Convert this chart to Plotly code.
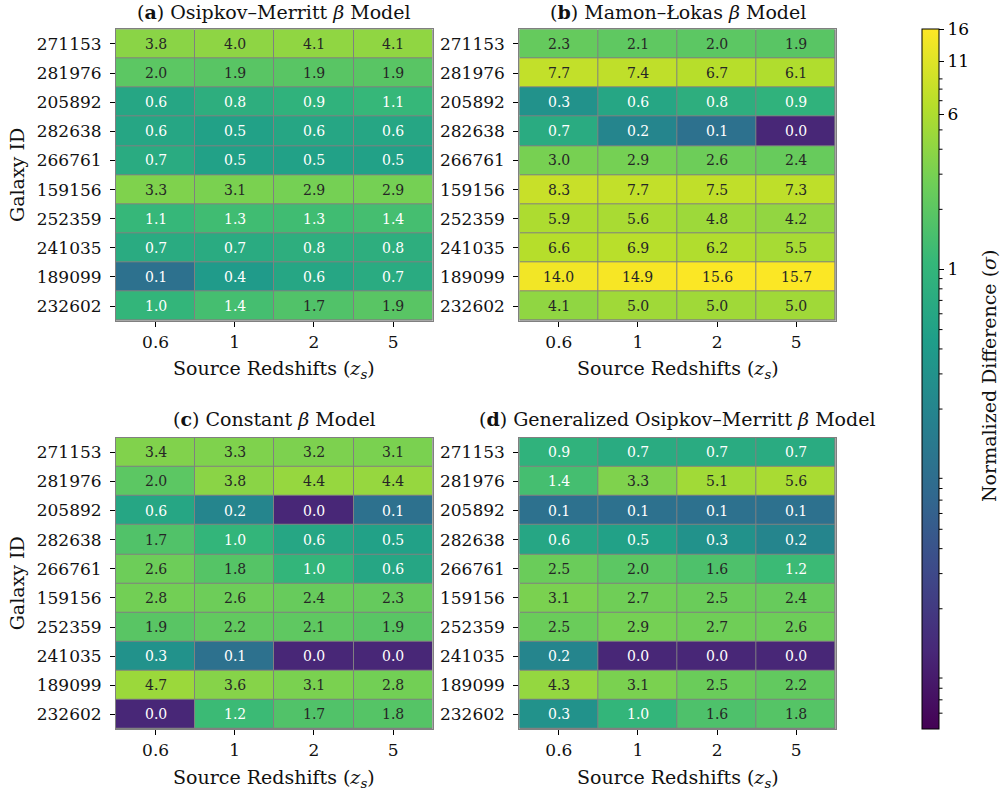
import numpy as np
import plotly.graph_objects as go

galaxies = ["271153", "281976", "205892", "282638", "266761",
            "159156", "252359", "241035", "189099", "232602"]
redshifts = ["0.6", "1", "2", "5"]

osipkov_merritt = [
    [3.8, 4.0, 4.1, 4.1],
    [2.0, 1.9, 1.9, 1.9],
    [0.6, 0.8, 0.9, 1.1],
    [0.6, 0.5, 0.6, 0.6],
    [0.7, 0.5, 0.5, 0.5],
    [3.3, 3.1, 2.9, 2.9],
    [1.1, 1.3, 1.3, 1.4],
    [0.7, 0.7, 0.8, 0.8],
    [0.1, 0.4, 0.6, 0.7],
    [1.0, 1.4, 1.7, 1.9],
]
mamon_lokas = [
    [2.3, 2.1, 2.0, 1.9],
    [7.7, 7.4, 6.7, 6.1],
    [0.3, 0.6, 0.8, 0.9],
    [0.7, 0.2, 0.1, 0.012],
    [3.0, 2.9, 2.6, 2.4],
    [8.3, 7.7, 7.5, 7.3],
    [5.9, 5.6, 4.8, 4.2],
    [6.6, 6.9, 6.2, 5.5],
    [14.0, 14.9, 15.6, 15.7],
    [4.1, 5.0, 5.0, 5.0],
]
constant_beta = [
    [3.4, 3.3, 3.2, 3.1],
    [2.0, 3.8, 4.4, 4.4],
    [0.6, 0.2, 0.012, 0.1],
    [1.7, 1.0, 0.6, 0.5],
    [2.6, 1.8, 1.0, 0.6],
    [2.8, 2.6, 2.4, 2.3],
    [1.9, 2.2, 2.1, 1.9],
    [0.3, 0.1, 0.012, 0.012],
    [4.7, 3.6, 3.1, 2.8],
    [0.012, 1.2, 1.7, 1.8],
]
generalized_om = [
    [0.9, 0.7, 0.7, 0.7],
    [1.4, 3.3, 5.1, 5.6],
    [0.1, 0.1, 0.1, 0.1],
    [0.6, 0.5, 0.3, 0.2],
    [2.5, 2.0, 1.6, 1.2],
    [3.1, 2.7, 2.5, 2.4],
    [2.5, 2.9, 2.7, 2.6],
    [0.2, 0.012, 0.012, 0.012],
    [4.3, 3.1, 2.5, 2.2],
    [0.3, 1.0, 1.6, 1.8],
]
panel_titles = [
    "(<b>a</b>) Osipkov–Merritt <i>β</i> Model",
    "(<b>b</b>) Mamon–Łokas <i>β</i> Model",
    "(<b>c</b>) Constant <i>β</i> Model",
    "(<b>d</b>) Generalized Osipkov–Merritt <i>β</i> Model",
]
cbar_ticks = [1, 6, 11, 16]
cbar_minor = [0.006, 0.007, 0.008, 0.009,
              0.02, 0.03, 0.04, 0.05, 0.06, 0.07, 0.08, 0.09,
              0.2, 0.3, 0.4, 0.5, 0.6, 0.7, 0.8, 0.9,
              2, 3, 4, 5, 7, 8, 9]
VMIN, VMAX = 0.005, 16.0

W, H = 1004, 793
FONT = "DejaVu Serif"
LABEL_SIZE = 19
TICK_SIZE = 17
CELL_SIZE = 14

def px_x(p):
    return p / W

def px_y(p):
    return 1 - p / H

# panel pixel boxes (left, right, top, bottom)
boxes = [
    (116, 432.7, 29.3, 320.7),
    (519.3, 835.7, 29.3, 320.7),
    (116, 432.7, 437.7, 729),
    (519.3, 835.7, 437.7, 729),
]
datasets = [osipkov_merritt, mamon_lokas, constant_beta, generalized_om]

fig = go.Figure()
annotations = []
zmin, zmax = np.log10(VMIN), np.log10(VMAX)
xi = list(range(len(redshifts)))
yi = list(range(len(galaxies)))

for i, (data, box) in enumerate(zip(datasets, boxes)):
    arr = np.array(data, dtype=float)
    xa = "x" if i == 0 else f"x{i+1}"
    ya = "y" if i == 0 else f"y{i+1}"
    trace = go.Heatmap(
        z=np.log10(arr).tolist(), x=xi, y=yi,
        colorscale="Viridis", zmin=zmin, zmax=zmax,
        xgap=1, ygap=1, hoverinfo="skip",
        xaxis=xa, yaxis=ya,
        showscale=(i == 0),
    )
    if i == 0:
        trace.colorbar = dict(
            x=px_x(922), xanchor="left", xpad=0,
            y=px_y(29), yanchor="top", ypad=0,
            len=700 / H, lenmode="fraction",
            thickness=17, thicknessmode="pixels",
            outlinecolor="black", outlinewidth=1,
            tickvals=list(np.log10(cbar_ticks)),
            ticktext=[str(t) for t in cbar_ticks],
            ticks="outside", ticklen=5, tickwidth=1, tickcolor="black",
            tickfont=dict(family=FONT, size=TICK_SIZE, color="black"),
        )
    fig.add_trace(trace)

    l, r, t, b = box
    axis_common = dict(
        showline=True, mirror=True, linecolor="#808080", linewidth=1,
        ticks="outside", ticklen=5, tickwidth=1.2, tickcolor="black",
        showgrid=False, zeroline=False,
        tickfont=dict(family=FONT, size=TICK_SIZE, color="#111111"),
    )
    fig.layout[("xaxis" if i == 0 else f"xaxis{i+1}")] = dict(
        domain=[px_x(l), px_x(r)], anchor=ya, range=[-0.5, len(xi) - 0.5],
        tickvals=xi, ticktext=redshifts, ticklabelstandoff=1, **axis_common,
    )
    fig.layout[("yaxis" if i == 0 else f"yaxis{i+1}")] = dict(
        domain=[px_y(b), px_y(t)], anchor=xa, range=[len(yi) - 0.5, -0.5],
        tickvals=yi, ticktext=galaxies, ticklabelstandoff=5, **axis_common,
    )

    # cell labels
    for gi in yi:
        for ri in xi:
            v = arr[gi, ri]
            annotations.append(dict(
                x=ri, y=gi, xref=xa, yref=ya, text=f"{v:.1f}",
                showarrow=False,
                font=dict(family=FONT, size=CELL_SIZE,
                          color="#262626" if v >= 1.5 else "white"),
            ))
    # title
    title_y = 12 if t < 100 else 419
    annotations.append(dict(
        x=px_x((l + r) / 2), y=px_y(title_y), xref="paper", yref="paper",
        text=panel_titles[i], showarrow=False, xanchor="center",
        yanchor="middle", font=dict(family=FONT, size=LABEL_SIZE, color="#111111"),
    ))
    # x axis title
    annotations.append(dict(
        x=px_x((l + r) / 2), y=px_y(b + 49), xref="paper", yref="paper",
        text="Source Redshifts (<i>z<sub>s</sub></i>)", showarrow=False,
        xanchor="center", yanchor="middle",
        font=dict(family=FONT, size=LABEL_SIZE, color="#111111"),
    ))
    if i in (0, 2):
        annotations.append(dict(
            x=px_x(17), y=px_y((t + b) / 2), xref="paper", yref="paper",
            text="Galaxy ID", showarrow=False, textangle=-90,
            xanchor="center", yanchor="middle",
            font=dict(family=FONT, size=LABEL_SIZE, color="#111111"),
        ))

# colorbar title
annotations.append(dict(
    x=px_x(989), y=px_y(376), xref="paper", yref="paper",
    text="Normalized Difference (<i>σ</i>)", showarrow=False, textangle=-90,
    xanchor="center", yanchor="middle",
    font=dict(family=FONT, size=LABEL_SIZE, color="#111111"),
))

# colorbar minor ticks
shapes = []
for v in cbar_minor:
    frac = (np.log10(v) - zmin) / (zmax - zmin)
    ypix = 729 - frac * 700
    shapes.append(dict(
        type="line", xref="paper", yref="paper",
        x0=px_x(939), x1=px_x(942.5), y0=px_y(ypix), y1=px_y(ypix),
        line=dict(color="black", width=1),
    ))

fig.update_layout(
    width=W, height=H,
    margin=dict(l=0, r=0, t=0, b=0),
    paper_bgcolor="white", plot_bgcolor="#808080",
    annotations=annotations, shapes=shapes,
    font=dict(family=FONT, color="#111111"),
    showlegend=False,
)

fig.write_html("out.html")
